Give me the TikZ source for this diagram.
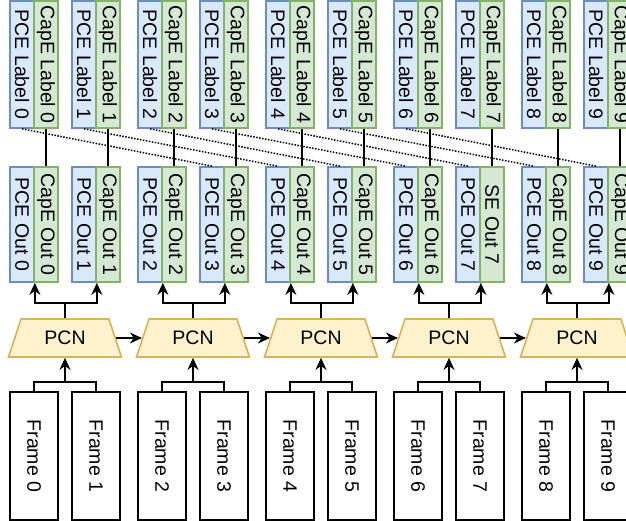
\documentclass[tikz,border=0pt]{standalone}
\usepackage{graphicx}
\usepackage{fontspec}
\setmainfont{Liberation Sans}
\usetikzlibrary{shapes.geometric,arrows.meta}
\definecolor{pcefill}{HTML}{DAE8FC}
\definecolor{pceline}{HTML}{6C8EBF}
\definecolor{capefill}{HTML}{D5E8D4}
\definecolor{capeline}{HTML}{82B366}
\definecolor{pcnfill}{HTML}{FFF2CC}
\definecolor{pcnline}{HTML}{D6B656}
\begin{document}
\begin{tikzpicture}[x=1pt,y=-1pt,
  every node/.style={font=\fontsize{19.5}{21}\selectfont, inner sep=0pt},
  pcebox/.style={draw=pceline, fill=pcefill, line width=1.7pt, minimum width=24pt},
  capebox/.style={draw=capeline, fill=capefill, line width=1.7pt, minimum width=24pt},
  labelrow/.style={minimum height=127pt},
  outrow/.style={minimum height=115pt},
  framebox/.style={draw, fill=white, line width=1.7pt, minimum width=48pt, minimum height=128pt},
  pcnbox/.style={trapezium, trapezium angle=67, trapezium stretches=true, draw=pcnline, fill=pcnfill,
    line width=1.7pt, minimum width=113pt, minimum height=38pt},
  link/.style={line width=1.8pt},
  dotline/.style={line width=1.5pt, dash pattern=on 1.5pt off 1.5pt},
  arr/.style={line width=1.8pt, -{Stealth[length=12pt,width=11pt]}}
]
\useasboundingbox (0,0) rectangle (626,521);
\foreach \c in {0,...,9}{
  \pgfmathsetmacro\L{10+128*int(\c/2)+62*mod(\c,2)}
  \node (pl\c) [pcebox, labelrow] at (\L+12, 64.5) {\rotatebox{-90}{PCE Label \c}};
  \node (cl\c) [capebox, labelrow] at (\L+36, 64.5) {\rotatebox{-90}{CapE Label \c}};
  \node (po\c) [pcebox, outrow] at (\L+12, 224.5) {\rotatebox{-90}{PCE Out \c}};
  \node (co\c) [capebox, outrow] at (\L+36, 224.5) {\rotatebox{-90}{\ifnum\c=7 SE\else CapE\fi\ Out \c}};
  \node (fr\c) [framebox] at (\L+24, 456) {\rotatebox{-90}{Frame \c}};
  \draw [link] (cl\c) -- (co\c);
}
\foreach \k [evaluate=\k as \m using int(\k+3)] in {0,...,6}
  \draw [dotline] (pl\k.south) -- (po\m.north);
\foreach \p [evaluate=\p as \a using int(2*\p), evaluate=\p as \b using int(2*\p+1)] in {0,...,4}{
  \node (pcn\p) [pcnbox] at (65+128*\p, 338) {PCN};
  \path (pcn\p.north) ++(0,-15) coordinate (oj\p);
  \path (pcn\p.south |- fr\a.north) ++(0,-9) coordinate (fj\p);
  \draw [link] (pcn\p.north) -- (oj\p);
  \draw [arr] (oj\p) -| (po\a.south east);
  \draw [arr] (oj\p) -| (po\b.south east);
  \draw [link] (fr\a.north) |- (fj\p) -| (fr\b.north);
  \draw [arr] (fj\p) -- (pcn\p.south);
}
\foreach \p [evaluate=\p as \q using int(\p+1)] in {0,...,3}
  \draw [arr] (pcn\p) -- (pcn\q);
\end{tikzpicture}
\end{document}
